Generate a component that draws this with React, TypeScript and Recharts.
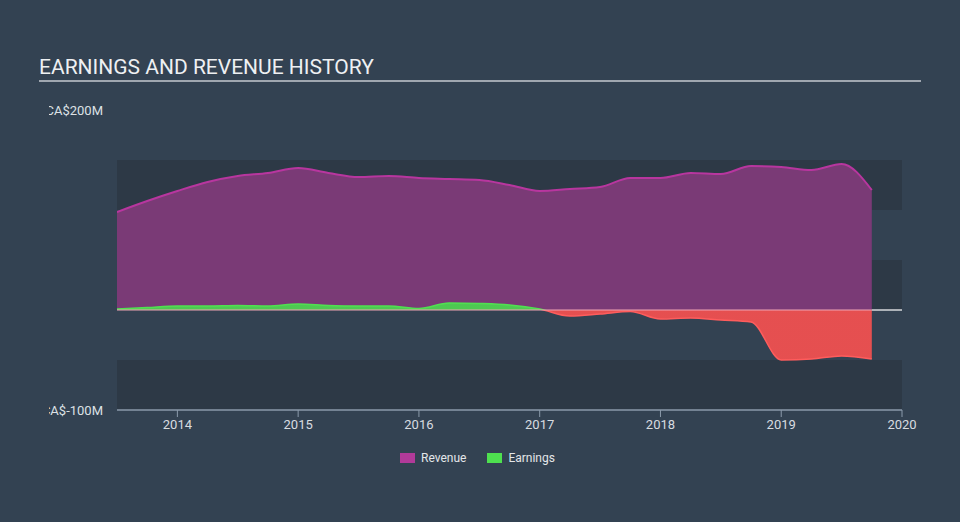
import React from 'react'
import {
  ComposedChart, Area, XAxis, YAxis, ReferenceArea, ReferenceLine,
} from 'recharts'

// quarter ends, as decimal years
const dates = [
  2013.5, 2013.75, 2014.0, 2014.25, 2014.5, 2014.75, 2015.0, 2015.25, 2015.5,
  2015.75, 2016.0, 2016.25, 2016.5, 2016.75, 2017.0, 2017.25, 2017.5, 2017.75,
  2018.0, 2018.25, 2018.5, 2018.75, 2019.0, 2019.25, 2019.5, 2019.75,
]
// CA$ millions
const revenue = [
  98, 109, 119, 128, 134, 137, 142, 137, 133, 134, 132, 131, 130, 125, 119, 121,
  123, 132, 132, 137, 136, 144, 143, 140, 146, 120,
]
const earnings = [
  1, 2.5, 4, 4, 4.5, 4, 6, 4.5, 4, 4, 1.5, 7, 6.5, 5, 1, -6, -4, -1.5, -9, -8,
  -10, -12, -50, -49, -46, -49,
]
const xTicks = [2014, 2015, 2016, 2017, 2018, 2019, 2020]
const yTicks = [-100, 200]
const bands = [[100, 150], [0, 50], [-100, -50]]
const legendItems = [
  { name: 'Revenue', color: '#b13a99' },
  { name: 'Earnings', color: '#4ee04f' },
]

const rows = dates.map((d, i) => ({ date: d, revenue: revenue[i], earnings: earnings[i] }))
const firstDate = dates[0]
const lastDate = dates[dates.length - 1]

const W = 960
const H = 522
const TOP = 110
const BOTTOM = 410
const ZERO_OFF = (BOTTOM - (BOTTOM - TOP) * (100 / 300)) / H

const font = 'Roboto, "Noto Sans", sans-serif'

function YTick(props: any) {
  const { y, payload } = props
  return (
    <svg x={49} y={y - 12} width={60} height={24} overflow="hidden">
      <text x={54} y={12} dy="0.35em" textAnchor="end" fill="#dde1e5" fontSize={13} fontFamily={font}>
        {`CA$${payload.value}M`}
      </text>
    </svg>
  )
}

export default function App() {
  return (
    <div style={{ position: 'absolute', left: 0, top: 0, width: W, height: H, background: '#334252', fontFamily: font, overflow: 'hidden' }}>
      <div style={{ position: 'absolute', left: 39, top: 55, fontSize: 21, color: '#eef0f2' }}>
        EARNINGS AND REVENUE HISTORY
      </div>
      <div style={{ position: 'absolute', left: 39, top: 80, width: 882, height: 2, background: '#a0a7b0' }} />
      <ComposedChart width={W} height={H} data={rows} margin={{ top: TOP, right: 58, bottom: 82, left: 57 }}>
        <defs>
          <linearGradient id="earnFill" x1="0" y1="0" x2="0" y2={H} gradientUnits="userSpaceOnUse">
            <stop offset={ZERO_OFF} stopColor="#4cd150" />
            <stop offset={ZERO_OFF} stopColor="#ef5050" />
          </linearGradient>
          <linearGradient id="earnStroke" x1="0" y1="0" x2="0" y2={H} gradientUnits="userSpaceOnUse">
            <stop offset={ZERO_OFF} stopColor="#50e050" />
            <stop offset={ZERO_OFF} stopColor="#ff5c5c" />
          </linearGradient>
        </defs>
        {bands.map(([a, b], i) => (
          <ReferenceArea key={i} y1={a} y2={b} fill="#2d3946" fillOpacity={1} stroke="none" ifOverflow="visible" />
        ))}
        <XAxis
          dataKey="date"
          type="number"
          domain={[2013.5, 2020]}
          ticks={xTicks}
          height={30}
          tick={{ fill: '#d8dce0', fontSize: 13, fontFamily: font }}
          tickLine={{ stroke: '#8b9aab' }}
          axisLine={{ stroke: '#8b9aab', strokeWidth: 1.5 }}
          tickSize={7}
          tickMargin={3}
          allowDataOverflow
        />
        <YAxis
          type="number"
          domain={[-100, 200]}
          ticks={yTicks}
          width={60}
          axisLine={false}
          tickLine={false}
          tick={<YTick />}
          allowDataOverflow
        />
        <Area
          dataKey="revenue"
          type="monotone"
          fill="#7a3a76"
          fillOpacity={1}
          stroke="#b8369f"
          strokeWidth={2}
          isAnimationActive={false}
          dot={false}
          activeDot={false}
        />
        <Area
          dataKey="earnings"
          type="monotone"
          baseValue={0}
          fill="url(#earnFill)"
          fillOpacity={0.95}
          stroke="url(#earnStroke)"
          strokeWidth={1.5}
          isAnimationActive={false}
          dot={false}
          activeDot={false}
        />
        <ReferenceLine
          segment={[{ x: firstDate, y: 0 }, { x: lastDate, y: 0 }]}
          stroke="#f0a4b4"
          strokeWidth={1}
        />
        <ReferenceLine
          segment={[{ x: lastDate, y: 0 }, { x: 2020, y: 0 }]}
          stroke="#ffffff"
          strokeWidth={1.2}
        />
      </ComposedChart>
      <div style={{ position: 'absolute', left: 400, top: 451, display: 'flex', gap: 21 }}>
        {legendItems.map(it => (
          <div key={it.name} style={{ display: 'flex', alignItems: 'center', gap: 6, fontSize: 12, color: '#e3e6e9' }}>
            <div style={{ width: 15, height: 10, background: it.color }} />
            <span>{it.name}</span>
          </div>
        ))}
      </div>
    </div>
  )
}
